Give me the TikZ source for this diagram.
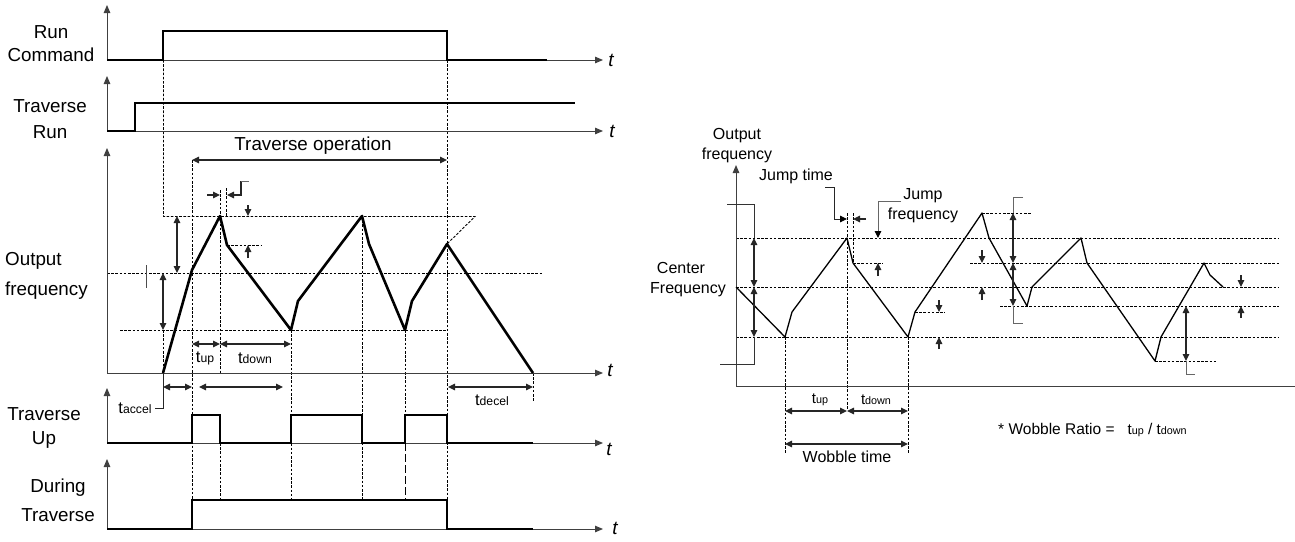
\documentclass[tikz,border=0pt]{standalone}
\usepackage{fontspec}
\setmainfont{Liberation Sans}
\usetikzlibrary{arrows.meta}
\newcommand{\Tsub}[1]{{\fontsize{16.5}{16.5}\selectfont t}{\fontsize{12.2}{12.2}\selectfont #1}}
\newcommand{\Tsmall}[1]{{\fontsize{15}{15}\selectfont t}{\fontsize{10.8}{10.8}\selectfont #1}}
\tikzset{
  axisline/.style={draw=black!75,line width=1pt,-{Triangle[length=8pt,width=6.5pt]}},
  plainaxis/.style={draw=black!75,line width=1pt},
  sig/.style={draw=black,line width=1.8pt,line join=miter},
  wave/.style={draw=black,line width=2.6pt,line join=round},
  thinwave/.style={draw=black,line width=1.3pt,line join=round},
  dsh/.style={draw=black,line width=0.9pt,dash pattern=on 2.6pt off 1.6pt},
  dim/.style={draw=black!85,line width=1.1pt,{Triangle[length=7pt,width=6.5pt]}-{Triangle[length=7pt,width=6.5pt]}},
  dimto/.style={draw=black!85,line width=1.1pt,-{Triangle[length=7pt,width=6.5pt]}},
  bigtxt/.style={inner sep=0pt,align=center,font=\fontsize{18.8}{18.8}\selectfont},
  midtxt/.style={inner sep=0pt,align=center,font=\fontsize{16}{16}\selectfont},
  ttxt/.style={inner sep=0pt,font=\fontsize{19}{19}\selectfont\itshape},
  subtxt/.style={inner sep=0pt},
}
\begin{document}
\begin{tikzpicture}[x=1pt,y=-1pt]
\useasboundingbox[fill=white] (0,0) rectangle (1295,541);
% ---------- left panel: dashed guides
\draw[dsh] (163.5,60) -- (163.5,216.5) -- (475,216.5) -- (447,244);
\draw[dsh] (163.5,330) -- (163.5,373);
\draw[dsh] (192,160) -- (192,500);
\draw[dsh] (220,190) -- (220,373) (220,443) -- (220,500);
\draw[dsh] (226,188) -- (226,216);
\draw[dsh] (362,216) -- (362,500);
\draw[dsh] (291,330) -- (291,500);
\draw[dsh] (405,330) -- (405,443);
\draw[draw=black,line width=0.9pt,dash pattern=on 8pt off 3pt] (405,443) -- (405,500);
\draw[dsh] (447,60) -- (447,500);
\draw[dsh] (107,273) -- (542,273);
\draw[dsh] (120,330) -- (447,330);
\draw[dsh] (227,245) -- (261,245);
\draw[dsh] (533,373) -- (533,402);
% axes
\draw[axisline] (107,60) -- (107,5);
\draw[axisline] (107,60) -- (603,60);
\draw[axisline] (107,131) -- (107,76);
\draw[axisline] (107,131) -- (603,131);
\draw[axisline] (107,373) -- (107,148);
\draw[axisline] (107,373) -- (603,373);
\draw[axisline] (107,443) -- (107,388);
\draw[axisline] (107,443) -- (603,443);
\draw[axisline] (107,529) -- (107,459);
\draw[axisline] (107,529) -- (603,529);
% signals
\draw[sig] (107,60) -- (163,60) -- (163,31) -- (447,31) -- (447,60) -- (547,60);
\draw[sig] (107,131) -- (135,131) -- (135,103) -- (575,103);
\draw[sig] (107,443) -- (192,443) -- (192,415) -- (220,415) -- (220,443) -- (291,443) -- (291,415) -- (362,415) -- (362,443) -- (405,443) -- (405,415) -- (447,415) -- (447,443) -- (533,443);
\draw[sig] (107,529) -- (192,529) -- (192,500) -- (447,500) -- (447,529) -- (533,529);
\draw[wave] (163,373) -- (192,270) -- (220,216) -- (227,245) -- (291,330) -- (298,301) -- (362,216) -- (369,244) -- (405,330) -- (412,301) -- (447,244) -- (533,373);
% left dims
\draw[dim] (192,160) -- (447,160);
\draw[dim] (177,216) -- (177,273);
\draw[dim] (163,273) -- (163,330);
\draw[dimto] (207,195) -- (220,195);
\draw[dimto] (241,181) -- (241,195) -- (227,195);
\draw[draw=black!60,line width=1pt] (241,181) -- (249,181);
\draw[dimto] (248,205) -- (248,216);
\draw[dimto] (248,258) -- (248,245);
\draw[draw=black!70,line width=1pt] (146,265) -- (146,288);
\draw[dim] (192,344) -- (220,344);
\draw[dim] (220,344) -- (291,344);
\draw[dim] (163,387) -- (192,387);
\draw[dim] (199,387) -- (283,387);
\draw[dim] (448,387) -- (533,387);
\draw[draw=black!85,line width=1pt] (163,373) -- (163,408) -- (155,408);
% left labels
\node[bigtxt] (lrun) at (51,44) {Run\\[4pt]Command};
\node[bigtxt] (ltrun) at (50,119) {Traverse\\[7pt]Run};
\node[bigtxt,align=left,anchor=west] (lout) at (5,276) {Output\\[11pt]frequency};
\node[bigtxt] (ltup) at (44,428) {Traverse\\[6pt]Up};
\node[bigtxt] (ldur) at (58,500) {During\\[10pt]Traverse};
\node[bigtxt] (lop) at (313,146) {Traverse operation};
\node[ttxt] (t1) at (611,60) {t};
\node[ttxt] (t2) at (612,131) {t};
\node[ttxt] (t3) at (610,370) {t};
\node[ttxt] (t4) at (609,449) {t};
\node[ttxt] (t5) at (615,528) {t};
\node[subtxt] (ltu) at (205,358) {\Tsub{up}};
\node[subtxt] (ltd) at (255,358) {\Tsub{down}};
\node[subtxt] (lta) at (135,408) {\Tsub{accel}};
\node[subtxt] (ltde) at (492,400) {\Tsub{decel}};
% ---------- right panel
\foreach \yy/\xa/\xb in {238/736/1279,263/853/883,263/970/1279,287/736/1279,306/1000/1279,337/736/1279,312/915/945,213/982/1032,361/1155/1217}
  \draw[dsh] (\xa,\yy) -- (\xb,\yy);
\draw[dsh] (847,213) -- (847,410);
\draw[dsh] (853,213) -- (853,263);
\draw[dsh] (785,337) -- (785,453);
\draw[dsh] (908,337) -- (908,453);
\draw[plainaxis,{Triangle[length=8pt,width=6.5pt]}-] (736,165) -- (736,386) -- (1295,386);
\draw[thinwave] (736,287) -- (785,337) -- (792,312) -- (847,238) -- (853,263) -- (908,337) -- (915,312) -- (982,213) -- (989,238) -- (1027,306) -- (1032,287) -- (1081,238) -- (1087,263) -- (1155,361) -- (1161,337) -- (1204,263) -- (1210,275) -- (1223,287);
\draw[dim] (754,238) -- (754,287);
\draw[dim] (754,287) -- (754,337);
\draw[draw=black!80,line width=1pt] (727,204) -- (754,204) -- (754,238);
\draw[draw=black!80,line width=1pt] (754,337) -- (754,364) -- (720,364);
\draw[draw=black!85,line width=0.9pt,-{Triangle[length=7pt,width=6.5pt,black]}] (825,187.4) -- (834.4,187.4) -- (834.4,219) -- (847,219);
\draw[dimto] (866,219) -- (853,219);
\draw[draw=black!60,line width=1pt,-{Triangle[length=7pt,width=6.5pt,black]}] (901,201) -- (878,201) -- (878,238);
\draw[dimto] (878,276) -- (878,263);
\draw[dim] (1013,213) -- (1013,263);
\draw[dim] (1013,263) -- (1013,306);
\draw[draw=black!60,line width=1pt] (1023,197) -- (1013,197) -- (1013,213);
\draw[draw=black!60,line width=1pt] (1013,306) -- (1013,323) -- (1023,323);
\draw[dimto] (982,250) -- (982,263);
\draw[dimto] (982,300) -- (982,287);
\draw[dimto] (939,300) -- (939,312);
\draw[dimto] (939,349) -- (939,337);
\draw[dimto] (1241,275) -- (1241,287);
\draw[dimto] (1241,318) -- (1241,306);
\draw[dim] (1186,306) -- (1186,361);
\draw[draw=black!60,line width=1pt] (1186,361) -- (1186,374) -- (1195,374);
\draw[dim] (785,411) -- (847,411);
\draw[dim] (847,411) -- (908,411);
\draw[dim] (785,444) -- (908,444);
% right labels
\node[midtxt] (rout) at (737,146) {Output\\[4pt]frequency};
\node[midtxt] (rjt) at (796,176) {Jump time};
\node[midtxt] (rjf) at (923,206) {Jump\\[4pt]frequency};
\node[midtxt] (rcf) at (688,280) {\hspace*{-14pt}Center\\[4pt]Frequency};
\node[subtxt] (rtu) at (820,400) {\Tsmall{up}};
\node[subtxt] (rtd) at (876,400) {\Tsmall{down}};
\node[midtxt] (rwt) at (847,457) {Wobble time};
\node[subtxt,anchor=west] (rwr) at (998,430) {\fontsize{15.5}{15.5}\selectfont * Wobble Ratio =\ \ \ \Tsmall{up} / \Tsmall{down}};
\end{tikzpicture}
\end{document}
